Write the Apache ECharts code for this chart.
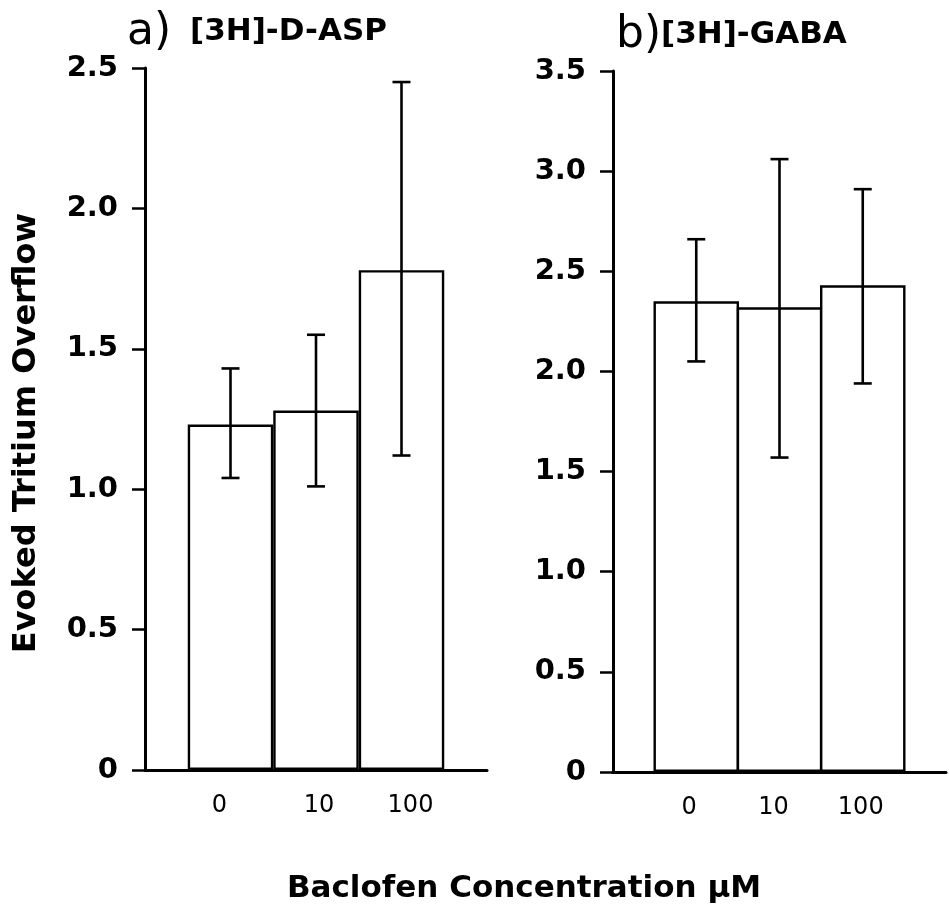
<!DOCTYPE html>
<html>
<head>
<meta charset="utf-8">
<script src="https://cdn.jsdelivr.net/npm/echarts@6/dist/echarts.min.js"></script>
<style>
  html, body { margin: 0; padding: 0; background: #fff; }
  #chart { width: 949px; height: 915px; }
</style>
</head>
<body>
<div id="chart"></div>
<script>
// Baclofen concentrations (µM)
const categories = ['0', '10', '100'];

// a) [3H]-D-ASP evoked tritium overflow: means and error bar ends
const aspMeans = [1.23, 1.28, 1.78];
const aspUpper = [1.43, 1.55, 2.45];
const aspLower = [1.04, 1.01, 1.12];

// b) [3H]-GABA evoked tritium overflow: means and error bar ends
const gabaMeans = [2.35, 2.32, 2.43];
const gabaUpper = [2.66, 3.06, 2.91];
const gabaLower = [2.05, 1.57, 1.94];

// y-axis ranges
const aspAxisMax = 2.5;
const gabaAxisMax = 3.5;
const axisStep = 0.5;

const FONT = 'DejaVu Sans';
const BAND = 85.5;              // px per category slot
const GRID_W = BAND * (categories.length + 1);

// small horizontal nudges (px) of the category labels in each panel
const labelNudgeA = [-11, 3, 9];
const labelNudgeB = [-7, -6, -2];

// bars sit on x positions 1..n of a value axis running 0..n+1
const barPoints = vals => vals.map((v, i) => [i + 1, v]);
const errPoints = (lo, hi) => lo.map((v, i) => [i + 1, v, hi[i]]);

function renderError(params, api) {
  const x = api.value(0);
  const lo = api.coord([x, api.value(1)]);
  const hi = api.coord([x, api.value(2)]);
  const cap = 9;
  const st = { stroke: '#000', lineWidth: 2.6 };
  return {
    type: 'group',
    children: [
      { type: 'line', shape: { x1: lo[0], y1: lo[1], x2: hi[0], y2: hi[1] }, style: st },
      { type: 'line', shape: { x1: lo[0] - cap, y1: lo[1], x2: lo[0] + cap, y2: lo[1] }, style: st },
      { type: 'line', shape: { x1: hi[0] - cap, y1: hi[1], x2: hi[0] + cap, y2: hi[1] }, style: st }
    ]
  };
}

function labelRich(nudge) {
  const rich = {};
  nudge.forEach((d, i) => {
    rich['c' + i] = {
      fontFamily: FONT, fontSize: 24, color: '#000',
      padding: d < 0 ? [0, -2 * d, 0, 0] : [0, 0, 0, 2 * d]
    };
  });
  return rich;
}

function xAxisFor(gridIndex, nudge) {
  return {
    type: 'value', gridIndex: gridIndex,
    min: 0, max: categories.length + 1, interval: 1,
    axisLine: { show: true, onZero: false, lineStyle: { color: '#000', width: 3 } },
    axisTick: { show: false },
    splitLine: { show: false },
    axisLabel: {
      margin: 24,
      formatter: v => categories[v - 1] !== undefined ? '{c' + (v - 1) + '|' + categories[v - 1] + '}' : '',
      rich: labelRich(nudge)
    }
  };
}

function yAxisFor(gridIndex, max) {
  return {
    type: 'value', gridIndex: gridIndex,
    min: 0, max: max, interval: axisStep,
    axisLine: { show: true, lineStyle: { color: '#000', width: 3 } },
    axisTick: { show: true, inside: false, length: 13, lineStyle: { color: '#000', width: 2.5 } },
    splitLine: { show: false },
    axisLabel: {
      color: '#000', fontFamily: FONT, fontWeight: 'bold', fontSize: 29, margin: 27,
      formatter: v => v === 0 ? '0' : v.toFixed(1)
    }
  };
}

function barSeries(idx, vals) {
  return {
    type: 'bar', xAxisIndex: idx, yAxisIndex: idx,
    data: barPoints(vals),
    barWidth: BAND,
    itemStyle: { color: '#fff', borderColor: '#000', borderWidth: 2.4 },
    emphasis: { disabled: true },
    z: 2
  };
}

function errSeries(idx, lo, hi) {
  return {
    type: 'custom', xAxisIndex: idx, yAxisIndex: idx,
    data: errPoints(lo, hi),
    encode: { x: 0, y: [1, 2] },
    renderItem: renderError,
    z: 3
  };
}

function titleText(x, y, text, size, bold) {
  return {
    type: 'text', x: x, y: y,
    style: {
      text: text, fontFamily: FONT, fontSize: size,
      fontWeight: bold ? 'bold' : 'normal', fill: '#000',
      align: 'left', verticalAlign: 'middle'
    }
  };
}

const chart = echarts.init(document.getElementById('chart'), null, { renderer: 'canvas' });

chart.setOption({
  animation: false,
  backgroundColor: '#fff',
  grid: [
    { left: 145, top: 68, width: GRID_W, height: 702 },
    { left: 613, top: 71, width: GRID_W, height: 701 }
  ],
  xAxis: [xAxisFor(0, labelNudgeA), xAxisFor(1, labelNudgeB)],
  yAxis: [yAxisFor(0, aspAxisMax), yAxisFor(1, gabaAxisMax)],
  series: [
    barSeries(0, aspMeans),
    errSeries(0, aspLower, aspUpper),
    barSeries(1, gabaMeans),
    errSeries(1, gabaLower, gabaUpper)
  ],
  graphic: [
    titleText(127, 33, 'a)', 44, false),
    titleText(190, 32, '[3H]-D-ASP', 31, true),
    titleText(616, 36, 'b)', 44, false),
    titleText(661, 35, '[3H]-GABA', 31, true),
    {
      type: 'text', x: 27, y: 433, rotation: Math.PI / 2,
      style: {
        text: 'Evoked Tritium Overflow',
        fontFamily: FONT, fontWeight: 'bold', fontSize: 32, fill: '#000',
        align: 'center', verticalAlign: 'middle'
      }
    },
    {
      type: 'text', x: 524, y: 889,
      style: {
        text: 'Baclofen Concentration µM',
        fontFamily: FONT, fontWeight: 'bold', fontSize: 31, fill: '#000',
        align: 'center', verticalAlign: 'middle'
      }
    }
  ]
});
</script>
</body>
</html>
